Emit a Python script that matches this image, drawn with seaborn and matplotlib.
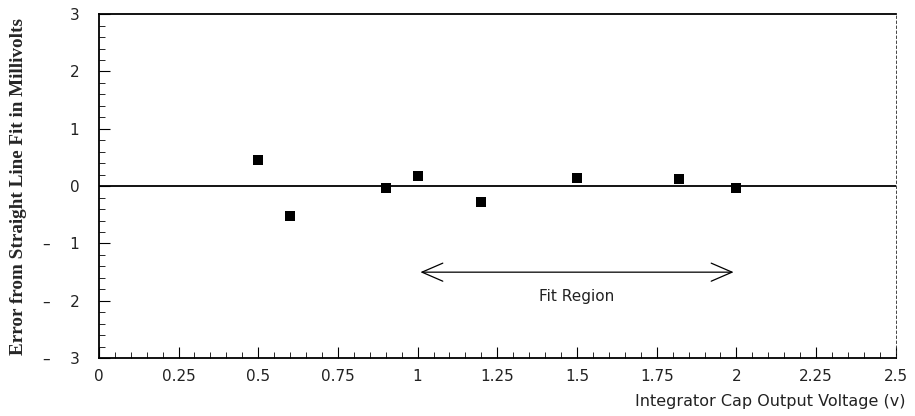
import matplotlib
matplotlib.use("Agg")
import matplotlib.pyplot as plt
from matplotlib.ticker import MultipleLocator, FixedLocator
import seaborn as sns
import pandas as pd

# data
voltage = [0.5, 0.6, 0.9, 1.0, 1.2, 1.5, 1.82, 2.0]
error_mv = [0.45, -0.52, -0.04, 0.17, -0.28, 0.14, 0.12, -0.04]
x_ticks = [0, 0.25, 0.5, 0.75, 1, 1.25, 1.5, 1.75, 2, 2.25, 2.5]
x_labels = ["0", "0.25", "0.5", "0.75", "1", "1.25", "1.5", "1.75", "2", "2.25", "2.5"]
y_ticks = [-3, -2, -1, 0, 1, 2, 3]
y_labels = ["–    3", "–    2", "–    1", "0", "1", "2", "3"]
fit_start, fit_end = 1.0, 2.0

df = pd.DataFrame({"v": voltage, "err": error_mv})

sns.set_style("ticks")
plt.rcParams["font.family"] = ["DejaVu Sans"]

fig = plt.figure(figsize=(9.15, 4.16), dpi=100)
ax = fig.add_axes([0.108, 0.139, 0.871, 0.827])

sns.scatterplot(data=df, x="v", y="err", marker="s", s=45, color="black",
                edgecolor="black", linewidth=0, ax=ax, zorder=3)

ax.axhline(0, color="black", lw=1.3)

ax.annotate("", xy=(fit_start, -1.5), xytext=(fit_end, -1.5),
            arrowprops=dict(arrowstyle="<->,head_length=1.5,head_width=0.65",
                            color="black", lw=0.9))
ax.text((fit_start + fit_end) / 2, -1.93, "Fit Region", ha="center", va="center",
        fontsize=11, color="#222222")

ax.set_xlim(0, 2.5)
ax.set_ylim(-3, 3)
ax.xaxis.set_major_locator(FixedLocator(x_ticks))
ax.set_xticklabels(x_labels)
ax.xaxis.set_minor_locator(MultipleLocator(0.05))
ax.yaxis.set_major_locator(FixedLocator(y_ticks))
ax.set_yticklabels(y_labels)
ax.yaxis.set_minor_locator(MultipleLocator(0.2))
ax.tick_params(which="major", direction="in", length=8, width=0.8, labelsize=11,
               colors="black", labelcolor="#222222", pad=8)
ax.tick_params(which="minor", direction="in", length=4, width=0.7)
ax.tick_params(axis="y", pad=14)

for side in ["top", "bottom", "left"]:
    ax.spines[side].set_linewidth(1.3)
    ax.spines[side].set_color("black")
ax.spines["right"].set_linewidth(0.6)
ax.spines["right"].set_linestyle((0, (3, 3)))

ax.set_xlabel("")
ax.set_ylabel("Error from Straight Line Fit in Millivolts", family="Liberation Serif",
              fontweight="bold", fontsize=13.8, labelpad=11)
fig.text(0.99, 0.035, "Integrator Cap Output Voltage (v)", ha="right", va="center",
         fontsize=11.5, color="#222222")

fig.savefig("out.png", dpi=100)
